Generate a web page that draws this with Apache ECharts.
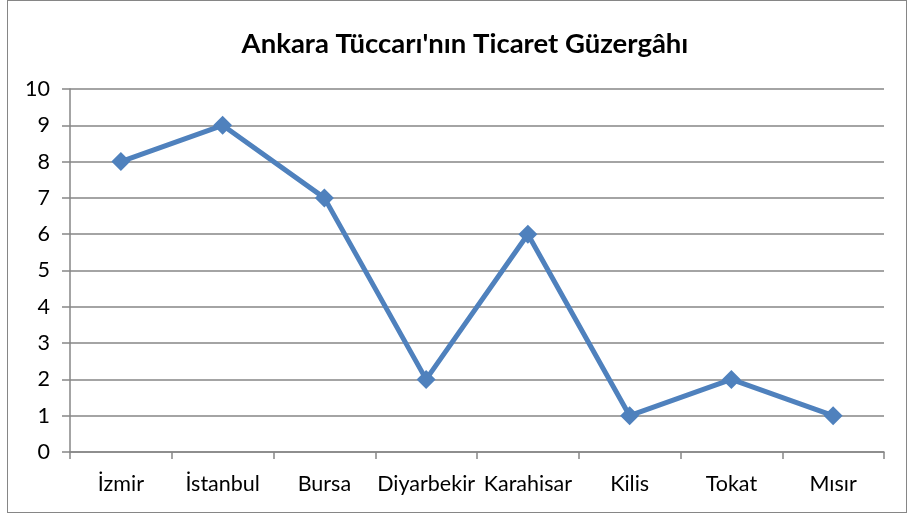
<!DOCTYPE html>
<html><head><meta charset="utf-8">
<script src="https://cdn.jsdelivr.net/npm/echarts@6/dist/echarts.min.js"></script>
<style>html,body{margin:0;padding:0;background:#fff}#c{width:910px;height:517px}
#frame{position:absolute;left:7px;top:0px;width:900px;height:513px;border:1.5px solid #868686;box-sizing:border-box;pointer-events:none}</style>
</head><body><div id="c"></div><div id="frame"></div>
<script>
const categories = ['İzmir','İstanbul','Bursa','Diyarbekir','Karahisar','Kilis','Tokat','Mısır'];
const values = [8, 9, 7, 2, 6, 1, 2, 1];
const yTicks = [0,1,2,3,4,5,6,7,8,9,10];
const font = 'Lato, Open Sans, sans-serif';
const chart = echarts.init(document.getElementById('c'));
chart.setOption({
  animation:false,
  title:{text:"Ankara Tüccarı'nın Ticaret Güzergâhı",left:460,top:25,textAlign:'center',
    textStyle:{fontFamily:font,fontSize:27.5,fontWeight:'bold',color:'#000'}},
  grid:{left:70,right:26,top:89,bottom:65},
  xAxis:{type:'category',data:categories,boundaryGap:true,
    axisLine:{lineStyle:{color:'#868686',width:1.5}},
    axisTick:{show:true,length:7,interval:0,lineStyle:{color:'#868686',width:1.5}},
    axisLabel:{interval:0,margin:21,fontFamily:font,fontSize:21.5,color:'#000'}},
  yAxis:{type:'value',min:yTicks[0],max:yTicks[yTicks.length-1],interval:1,
    axisLine:{show:true,lineStyle:{color:'#868686',width:1.5}},
    axisTick:{show:true,length:8,lineStyle:{color:'#868686',width:1.5}},
    splitLine:{lineStyle:{color:'#868686',width:1.5}},
    axisLabel:{margin:20,fontFamily:font,fontSize:21.5,color:'#000'}},
  series:[{type:'line',data:values,symbol:'diamond',symbolSize:19,
    lineStyle:{color:'#4F81BD',width:5},itemStyle:{color:'#4F81BD'}}]
});
</script></body></html>
